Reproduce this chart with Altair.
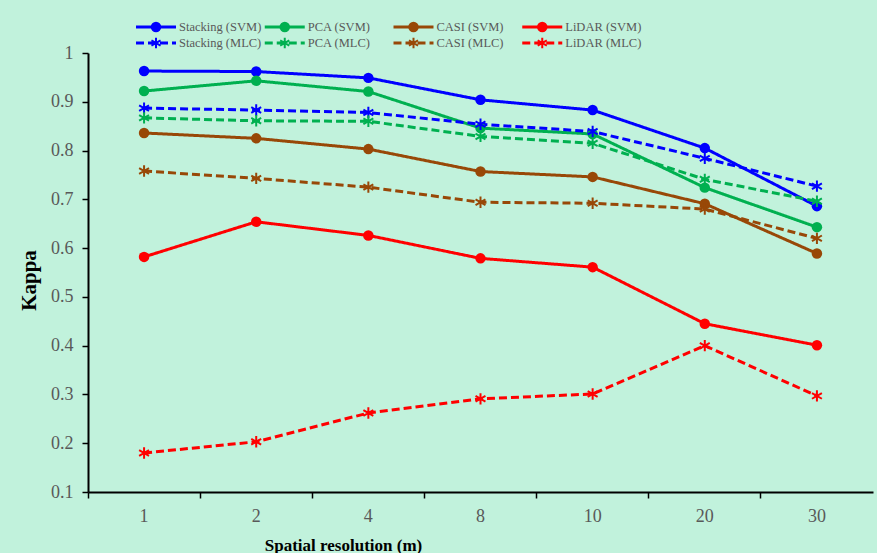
import altair as alt
import pandas as pd

resolutions = ["1", "2", "4", "8", "10", "20", "30"]

series_names = ["Stacking (SVM)", "PCA (SVM)", "CASI (SVM)", "LiDAR (SVM)",
                "Stacking (MLC)", "PCA (MLC)", "CASI (MLC)", "LiDAR (MLC)"]
series_colors = ["#0000FF", "#00B050", "#984807", "#FF0000",
                 "#0000FF", "#00B050", "#984807", "#FF0000"]
series_method = ["SVM", "SVM", "SVM", "SVM", "MLC", "MLC", "MLC", "MLC"]

stacking_svm = [0.963, 0.962, 0.949, 0.904, 0.883, 0.805, 0.686]
pca_svm = [0.922, 0.943, 0.921, 0.846, 0.834, 0.724, 0.643]
casi_svm = [0.836, 0.825, 0.803, 0.757, 0.746, 0.691, 0.589]
lidar_svm = [0.582, 0.654, 0.626, 0.579, 0.561, 0.445, 0.401]
stacking_mlc = [0.887, 0.883, 0.878, 0.854, 0.839, 0.784, 0.727]
pca_mlc = [0.867, 0.861, 0.860, 0.829, 0.815, 0.741, 0.696]
casi_mlc = [0.758, 0.743, 0.725, 0.694, 0.692, 0.680, 0.620]
lidar_mlc = [0.180, 0.203, 0.262, 0.291, 0.301, 0.400, 0.297]

series_values = [stacking_svm, pca_svm, casi_svm, lidar_svm,
                 stacking_mlc, pca_mlc, casi_mlc, lidar_mlc]

y_ticks = [0.1, 0.2, 0.3, 0.4, 0.5, 0.6, 0.7, 0.8, 0.9, 1.0]

# legend grid: column and row of each entry
legend_col = [0, 1, 2, 3, 0, 1, 2, 3]
legend_row = [0, 0, 0, 0, 1, 1, 1, 1]

rows = []
for name, method, vals in zip(series_names, series_method, series_values):
    for r, v in zip(resolutions, vals):
        rows.append({"series": name, "method": method, "res": r, "kappa": v})
df = pd.DataFrame(rows)

leg_df = pd.DataFrame({
    "series": series_names,
    "color": series_colors,
    "method": series_method,
    "col": legend_col,
    "row": legend_row,
})

FONT = "Liberation Serif"
GRAY = "#595959"
ASTERISK = "M0,-1L0,1M-0.87,-0.5L0.87,0.5M-0.87,0.5L0.87,-0.5"

x_enc = alt.X(
    "res:N", sort=resolutions,
    scale=alt.Scale(type="band", paddingInner=0, paddingOuter=0),
    axis=alt.Axis(
        title="Spatial resolution (m)", labelAngle=0, bandPosition=0,
        tickSize=6, labelPadding=9, titleX=255, titleY=58,
        titleBaseline="alphabetic", titleAnchor="middle", titleFontSize=17,
    ),
)
y_enc = alt.Y(
    "kappa:Q",
    scale=alt.Scale(domain=[0.1, 1.0], nice=False, zero=False),
    axis=alt.Axis(
        title="Kappa", values=y_ticks, format="~g", tickSize=6,
        labelPadding=9, titleX=-59, titleY=227, titleAngle=270,
        titleBaseline="middle", titleAlign="center", titleFontSize=21,
    ),
)
color_enc = alt.Color("series:N", scale=alt.Scale(domain=series_names, range=series_colors), legend=None)
dash_enc = alt.StrokeDash("method:N", scale=alt.Scale(domain=["SVM", "MLC"], range=[[1, 0], [8, 4]]), legend=None)

base = alt.Chart(df)
lines = base.mark_line(strokeWidth=3).encode(
    x=x_enc, y=y_enc, color=color_enc, strokeDash=dash_enc, detail="series:N"
)
pts_svm = base.transform_filter(alt.datum.method == "SVM").mark_point(
    shape="circle", filled=True, size=110, opacity=1
).encode(x=x_enc, y=y_enc, color=color_enc)
pts_mlc = base.transform_filter(alt.datum.method == "MLC").mark_point(
    shape=ASTERISK, filled=False, size=130, strokeWidth=2, opacity=1
).encode(x=x_enc, y=y_enc, color=color_enc)

main = alt.layer(lines, pts_svm, pts_mlc)

lx = alt.X("col:Q", scale=alt.Scale(domain=[0, 4], range=[48, 563]), axis=None)
ly = alt.Y("row:Q", scale=alt.Scale(domain=[0, 1], range=[-26, -10]), axis=None)
lcolor = alt.Color("color:N", scale=None)

lbase = alt.Chart(leg_df)
leg_rule = lbase.mark_rule(strokeWidth=3, x2Offset=40).encode(
    x=lx, x2=alt.X2("col:Q"), y=ly, color=lcolor, strokeDash=dash_enc
)
leg_svm = lbase.transform_filter(alt.datum.method == "SVM").mark_point(
    shape="circle", filled=True, size=110, opacity=1, xOffset=20
).encode(x=lx, y=ly, color=lcolor)
leg_mlc = lbase.transform_filter(alt.datum.method == "MLC").mark_point(
    shape=ASTERISK, filled=False, size=110, strokeWidth=2, opacity=1, xOffset=20
).encode(x=lx, y=ly, color=lcolor)
leg_text = lbase.mark_text(
    align="left", baseline="middle", dx=43, font=FONT, fontSize=12.5, color=GRAY
).encode(x=lx, y=ly, text="series:N")

legend = alt.layer(leg_rule, leg_svm, leg_mlc, leg_text)

chart = alt.layer(main, legend).resolve_scale(
    x="independent", y="independent"
).properties(
    width=785, height=439,
    autosize=alt.AutoSizeParams(type="none"),
    padding={"left": 88, "top": 53, "right": 4, "bottom": 61},
    background="#C1F2DC",
).configure_view(stroke=None).configure_axis(
    labelFont=FONT, labelFontSize=18, labelColor=GRAY,
    titleFont=FONT, titleFontWeight="bold", titleColor="#000000",
    domainColor="#000000", domainWidth=2, tickColor="#000000", tickWidth=1.5,
    grid=False,
)

chart.save("out.html", embed_options={"renderer": "svg", "actions": False})
